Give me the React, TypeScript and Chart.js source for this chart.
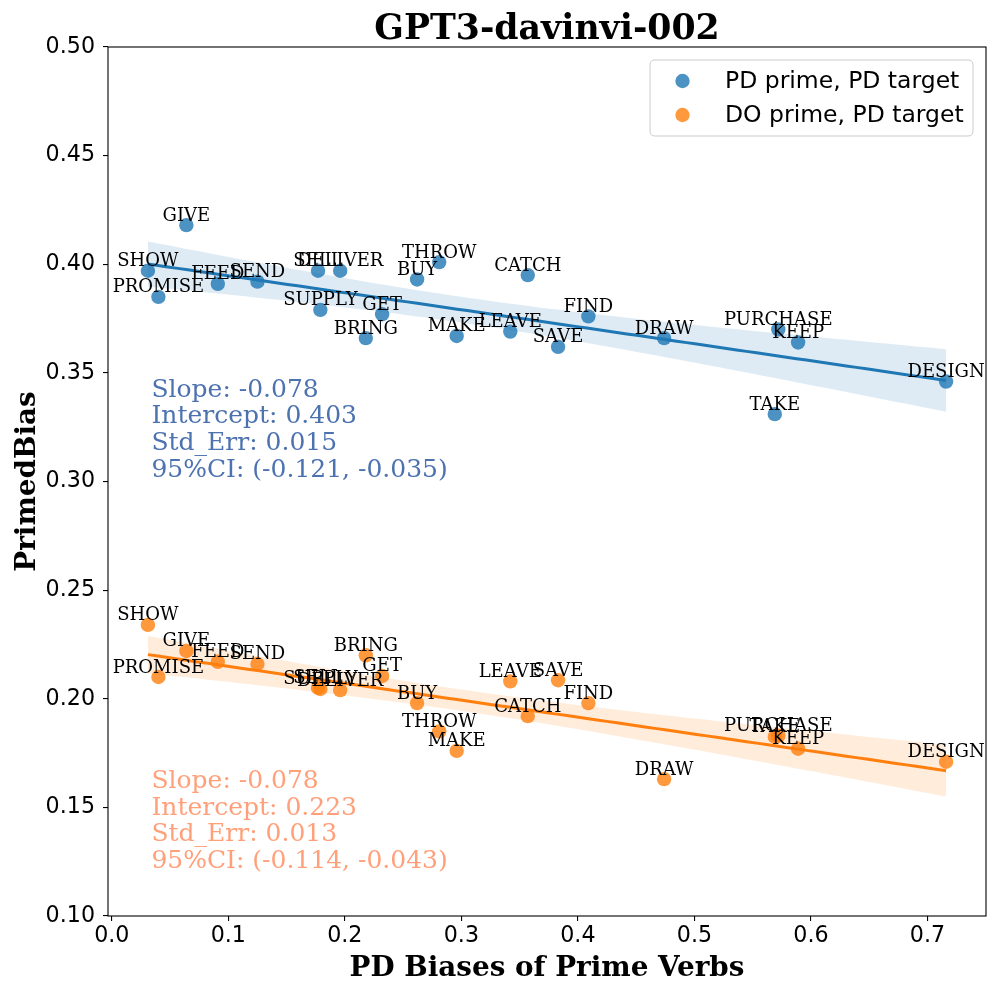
import React, { useEffect, useRef } from "react";
import { Chart, registerables } from "chart.js";

Chart.register(...registerables);

const chartTitle = "GPT3-davinvi-002";
const xTitle = "PD Biases of Prime Verbs";
const yTitle = "PrimedBias";
const seriesNames = ["PD prime, PD target", "DO prime, PD target"];

const verbs = [
  "SHOW", "GIVE", "PROMISE", "FEED", "SEND", "SELL", "DELIVER", "SUPPLY", "GET", "BRING", "THROW",
  "BUY", "MAKE", "CATCH", "LEAVE", "SAVE", "FIND", "DRAW", "PURCHASE", "KEEP", "TAKE", "DESIGN",
];
const primeBias = [
  0.031, 0.064, 0.040, 0.091, 0.125, 0.177, 0.196, 0.179, 0.232, 0.218, 0.281,
  0.262, 0.296, 0.357, 0.342, 0.383, 0.409, 0.474, 0.572, 0.589, 0.569, 0.716,
];
const pdPrimeBias = [
  0.397, 0.418, 0.385, 0.391, 0.392, 0.397, 0.397, 0.379, 0.377, 0.366, 0.401,
  0.393, 0.367, 0.395, 0.369, 0.362, 0.376, 0.366, 0.370, 0.364, 0.331, 0.346,
];
const doPrimeBias = [
  0.234, 0.222, 0.210, 0.217, 0.216, 0.205, 0.204, 0.2045, 0.2105, 0.220, 0.185,
  0.198, 0.176, 0.192, 0.208, 0.2085, 0.198, 0.163, 0.183, 0.177, 0.1825, 0.171,
];

const yTickValues = [0.1, 0.15, 0.2, 0.25, 0.3, 0.35, 0.4, 0.45, 0.5];
const xTickValues = [0, 0.1, 0.2, 0.3, 0.4, 0.5, 0.6, 0.7];

const blueStats = ["Slope: -0.078", "Intercept: 0.403", "Std_Err: 0.015", "95%CI: (-0.121, -0.035)"];
const orangeStats = ["Slope: -0.078", "Intercept: 0.223", "Std_Err: 0.013", "95%CI: (-0.114, -0.043)"];
const statsX = 0.034;
const blueStatsY = 0.339;
const orangeStatsY = 0.159;

const BLUE = "31,119,180";
const ORANGE = "255,127,14";

function regression(xs: number[], ys: number[]) {
  const n = xs.length;
  const mx = xs.reduce((a, b) => a + b, 0) / n;
  const my = ys.reduce((a, b) => a + b, 0) / n;
  let sxx = 0, sxy = 0;
  for (let i = 0; i < n; i++) {
    sxx += (xs[i] - mx) ** 2;
    sxy += (xs[i] - mx) * (ys[i] - my);
  }
  const slope = sxy / sxx;
  const intercept = my - slope * mx;
  let sse = 0;
  for (let i = 0; i < n; i++) sse += (ys[i] - (intercept + slope * xs[i])) ** 2;
  const s = Math.sqrt(sse / (n - 2));
  const t = 2.086;
  const lo = Math.min(...xs), hi = Math.max(...xs);
  const grid: number[] = [];
  const steps = 80;
  for (let k = 0; k <= steps; k++) grid.push(lo + ((hi - lo) * k) / steps);
  const line = grid.map((x) => ({ x, y: intercept + slope * x }));
  const half = (x: number) => t * s * Math.sqrt(1 / n + (x - mx) ** 2 / sxx);
  const upper = grid.map((x) => ({ x, y: intercept + slope * x + half(x) }));
  const lower = grid.map((x) => ({ x, y: intercept + slope * x - half(x) }));
  return { line, upper, lower };
}

export default function App() {
  const ref = useRef<HTMLCanvasElement | null>(null);

  useEffect(() => {
    document.body.style.margin = "0";
    const canvas = ref.current;
    if (!canvas) return;

    const xMinD = Math.min(...primeBias), xMaxD = Math.max(...primeBias);
    const xr = xMaxD - xMinD;
    const xMin = xMinD - 0.05 * xr;
    const xMax = xMaxD + 0.05 * xr;

    const blueFit = regression(primeBias, pdPrimeBias);
    const orangeFit = regression(primeBias, doPrimeBias);

    const bluePts = primeBias.map((x, i) => ({ x, y: pdPrimeBias[i] }));
    const orangePts = primeBias.map((x, i) => ({ x, y: doPrimeBias[i] }));

    const overlay = {
      id: "overlay",
      beforeDraw(chart: any) {
        const c = chart.ctx;
        c.save();
        c.fillStyle = "#fff";
        c.fillRect(0, 0, chart.width, chart.height);
        c.restore();
      },
      afterDatasetsDraw(chart: any) {
        const c = chart.ctx as CanvasRenderingContext2D;
        const xs = chart.scales.x;
        const ys = chart.scales.y;
        const area = chart.chartArea;
        c.save();
        // point labels
        c.font = "18px 'DejaVu Serif'";
        c.fillStyle = "#000";
        c.textAlign = "center";
        c.textBaseline = "alphabetic";
        [pdPrimeBias, doPrimeBias].forEach((arr) => {
          arr.forEach((v, i) => {
            const px = xs.getPixelForValue(primeBias[i]);
            const py = ys.getPixelForValue(v);
            c.fillText(verbs[i], px, py - 4.5);
          });
        });
        // stats text
        c.font = "25px 'DejaVu Serif'";
        c.textAlign = "left";
        const sx = xs.getPixelForValue(statsX);
        const by = ys.getPixelForValue(blueStatsY);
        c.fillStyle = "#4c72b0";
        blueStats.forEach((t, i) => c.fillText(t, sx, by + i * 26.7));
        const oy = ys.getPixelForValue(orangeStatsY);
        c.fillStyle = "#ffa07a";
        orangeStats.forEach((t, i) => c.fillText(t, sx, oy + i * 26.7));
        // frame
        c.strokeStyle = "#000";
        c.lineWidth = 1.1;
        c.strokeRect(area.left, area.top, area.right - area.left, area.bottom - area.top);
        // legend
        const lx = 650, ly = 60, lw = 323, lh = 76, r = 5;
        c.beginPath();
        c.moveTo(lx + r, ly);
        c.lineTo(lx + lw - r, ly);
        c.quadraticCurveTo(lx + lw, ly, lx + lw, ly + r);
        c.lineTo(lx + lw, ly + lh - r);
        c.quadraticCurveTo(lx + lw, ly + lh, lx + lw - r, ly + lh);
        c.lineTo(lx + r, ly + lh);
        c.quadraticCurveTo(lx, ly + lh, lx, ly + lh - r);
        c.lineTo(lx, ly + r);
        c.quadraticCurveTo(lx, ly, lx + r, ly);
        c.closePath();
        c.fillStyle = "rgba(255,255,255,0.8)";
        c.fill();
        c.strokeStyle = "#cccccc";
        c.lineWidth = 1;
        c.stroke();
        const cols = [BLUE, ORANGE];
        c.font = "23.5px 'DejaVu Sans'";
        c.textAlign = "left";
        seriesNames.forEach((name, i) => {
          const my = 81 + i * 34;
          c.beginPath();
          c.arc(682.5, my, 7.2, 0, Math.PI * 2);
          c.fillStyle = `rgba(${cols[i]},0.8)`;
          c.fill();
          c.fillStyle = "#000";
          c.fillText(name, 725, my + 6.5);
        });
        c.restore();
      },
      afterDraw(chart: any) {
        const c = chart.ctx as CanvasRenderingContext2D;
        const area = chart.chartArea;
        const cx = (area.left + area.right) / 2;
        c.save();
        c.fillStyle = "#000";
        c.textAlign = "center";
        c.textBaseline = "alphabetic";
        c.font = "bold 34.7px 'DejaVu Serif'";
        c.fillText(chartTitle, cx, 39);
        c.font = "bold 27.8px 'DejaVu Serif'";
        c.fillText(xTitle, cx, 976);
        c.translate(35, (area.top + area.bottom) / 2);
        c.rotate(-Math.PI / 2);
        c.fillText(yTitle, 0, 0);
        c.restore();
      },
    };

    const chart = new Chart(canvas, {
      type: "scatter",
      data: {
        datasets: [
          {
            type: "scatter",
            label: seriesNames[0],
            data: bluePts,
            backgroundColor: `rgba(${BLUE},0.8)`,
            borderWidth: 0,
            pointRadius: 7.2,
            order: 6,
          } as any,
          {
            type: "line",
            data: blueFit.upper,
            borderWidth: 0,
            pointRadius: 0,
            backgroundColor: `rgba(${BLUE},0.15)`,
            fill: "+1",
            order: 5,
          },
          {
            type: "line",
            data: blueFit.lower,
            borderWidth: 0,
            pointRadius: 0,
            fill: false,
            order: 5,
          },
          {
            type: "line",
            data: blueFit.line,
            borderColor: `rgb(${BLUE})`,
            borderWidth: 3,
            pointRadius: 0,
            fill: false,
            order: 4,
          },
          {
            type: "scatter",
            label: seriesNames[1],
            data: orangePts,
            backgroundColor: `rgba(${ORANGE},0.8)`,
            borderWidth: 0,
            pointRadius: 7.2,
            order: 3,
          } as any,
          {
            type: "line",
            data: orangeFit.upper,
            borderWidth: 0,
            pointRadius: 0,
            backgroundColor: `rgba(${ORANGE},0.15)`,
            fill: "+1",
            order: 2,
          },
          {
            type: "line",
            data: orangeFit.lower,
            borderWidth: 0,
            pointRadius: 0,
            fill: false,
            order: 2,
          },
          {
            type: "line",
            data: orangeFit.line,
            borderColor: `rgb(${ORANGE})`,
            borderWidth: 3,
            pointRadius: 0,
            fill: false,
            order: 1,
          },
        ],
      },
      options: {
        animation: false,
        responsive: false,
        devicePixelRatio: 1,
        events: [],
        layout: { padding: { top: 47, right: 17, left: 0, bottom: 0 } },
        plugins: {
          legend: { display: false },
          title: { display: false },
          tooltip: { enabled: false },
        },
        scales: {
          x: {
            type: "linear",
            min: xMin,
            max: xMax,
            afterBuildTicks: (s: any) => {
              s.ticks = xTickValues.map((v) => ({ value: v }));
            },
            afterFit: (s: any) => {
              s.height = 79;
            },
            ticks: {
              callback: (v: any) => Number(v).toFixed(1),
              font: { family: "'DejaVu Sans'", size: 22.2 },
              color: "#000",
              padding: 2,
              maxRotation: 0,
              autoSkip: false,
            },
            grid: { display: true, drawOnChartArea: false, drawTicks: true, tickLength: 5, color: "#000", lineWidth: 1.1 },
            border: { display: false },
          },
          y: {
            type: "linear",
            min: 0.1,
            max: 0.5,
            afterBuildTicks: (s: any) => {
              s.ticks = yTickValues.map((v) => ({ value: v }));
            },
            afterFit: (s: any) => {
              s.width = 108;
            },
            ticks: {
              callback: (v: any) => Number(v).toFixed(2),
              font: { family: "'DejaVu Sans'", size: 22.2 },
              color: "#000",
              padding: 8,
              autoSkip: false,
            },
            grid: { display: true, drawOnChartArea: false, drawTicks: true, tickLength: 5, color: "#000", lineWidth: 1.1 },
            border: { display: false },
          },
        },
      },
      plugins: [overlay],
    } as any);

    return () => chart.destroy();
  }, []);

  return (
    <div style={{ width: 1003, height: 995, position: "relative" }}>
      <canvas ref={ref} width={1003} height={995} style={{ display: "block" }} />
    </div>
  );
}
